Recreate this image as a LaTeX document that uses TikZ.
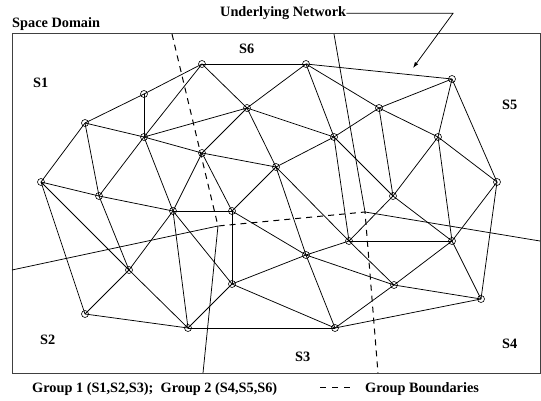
\documentclass[tikz,border=0pt]{standalone}
\usepackage{fontspec}
\setmainfont{Liberation Serif}
\usetikzlibrary{arrows.meta}
\begin{document}
\begin{tikzpicture}[x=1pt,y=-1pt,
  vtx/.style={circle,draw,inner sep=0pt,minimum size=7pt,line width=0.6pt},
  edge/.style={line width=0.75pt},
  bnd/.style={line width=0.75pt},
  gbnd/.style={line width=1pt,dash pattern=on 6pt off 5pt},
  legdash/.style={line width=1pt,dash pattern=on 6pt off 6pt},
  frame/.style={draw=black!75,line width=1pt},
  lbl/.style={font=\fontsize{14.3}{16}\selectfont\bfseries,inner sep=0pt,anchor=base west},
]
\useasboundingbox (0,0) rectangle (541,401);
% frame
\draw[frame] (12,34) rectangle (540,373);
% vertices
\foreach \n/\x/\y in {A/202/64, B/306/64, C/452/79, D/144/94, E/247/108,
  F/379/108, G/85/123, H/144/137, I/334/137, J/438/137, K/202/153,
  L/41/182, M/497/182, N/276/167, O/99/196, P/393/196, Q/173/211,
  R/232/211, S/349/241, T/452/241, U/129/270, V/306/255, W/232/284,
  X/394/285, Y/85/314, Z/481/299, AA/188/328, AB/335/328}
  \node[vtx] (\n) at (\x,\y) {};
% edges
\foreach \a/\b in {A/B, A/D, A/H, A/E, B/C, B/E, B/I, B/F, C/F, C/J, C/M,
  D/G, D/H, E/H, E/K, E/I, E/N, F/I, F/J, F/P, G/H, G/L, G/O,
  H/O, H/K, H/Q, I/N, I/P, I/S, J/M, J/P, J/T, K/N, K/Q, K/R,
  L/O, L/U, L/Y, M/T, M/Z, N/R, N/V, N/S, O/Q, O/U, P/S, P/T,
  Q/R, Q/U, Q/AA, Q/W, R/W, R/V, S/V, S/T, S/X, T/X, T/Z,
  U/Y, U/AA, V/W, V/X, V/AB, W/AA, W/AB, X/AB, X/Z, Y/AA, Z/AB, AA/AB}
  \draw[edge] (\a.center) -- (\b.center);
% region / group boundaries
\coordinate (j1) at (218,226);
\coordinate (j2) at (365,212);
\coordinate (btop1) at (172,34);
\coordinate (bbot2) at (378,373);
\coordinate (sleft) at (12,270);
\coordinate (sbot) at (203,373);
\coordinate (stop) at (334,34);
\coordinate (sright) at (540,241);
\draw[gbnd] (btop1) -- (j1) -- (j2) -- (bbot2);
\draw[bnd] (sleft) -- (j1) -- (sbot);
\draw[bnd] (stop) -- (j2) -- (sright);
% labels
\node[lbl] (sd) at (12,27.3) {Space Domain};
\node[lbl] (s1) at (33,87.3) {S1};
\node[lbl] (s6) at (239,53.3) {S6};
\node[lbl] (s5) at (502,110) {S5};
\node[lbl] (s2) at (40,344) {S2};
\node[lbl] (s3) at (295,361) {S3};
\node[lbl] (s4) at (502,348.3) {S4};
% underlying network pointer
\node[lbl] (un) at (220,16.7) {Underlying Network};
\coordinate (k1) at (453,13.3);
\coordinate (k2) at (413,68);
\draw[edge,-{Latex[length=6pt,width=4pt]}] (un.east) -- (un.east -| k1) -- (k2);
% legend
\node[lbl] (g12) at (32,392) {Group 1 (S1,S2,S3);\ \ Group 2 (S4,S5,S6)};
\coordinate (d1) at (320,387);
\coordinate (d2) at (350,387);
\draw[legdash] (d1) -- (d2);
\node[lbl] (gb) at (365,392) {Group Boundaries};
\end{tikzpicture}
\end{document}
